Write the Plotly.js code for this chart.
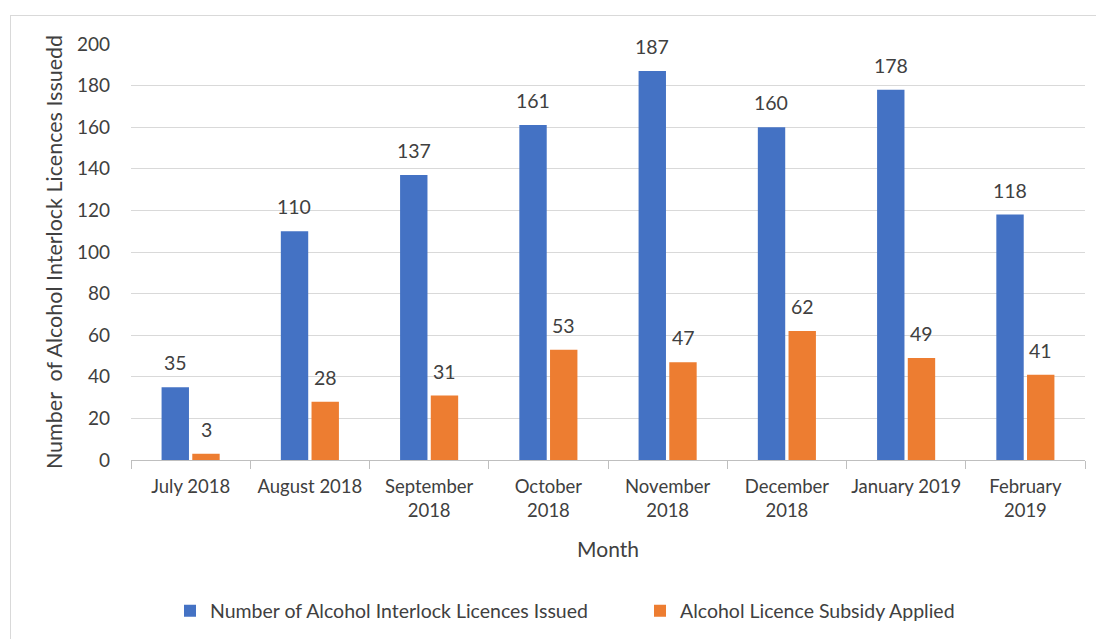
<!DOCTYPE html>
<html>
<head>
<meta charset="utf-8">
<script src="https://cdn.plot.ly/plotly-3.0.1.min.js"></script>
<style>
  body { margin: 0; background: #fff; }
  #plot { width: 1096px; height: 639px; }
  #frame { position: absolute; left: 10px; top: 15px; width: 1100px; height: 700px;
           border: 1px solid #d9d9d9; pointer-events: none; }
</style>
</head>
<body>
<div id="plot"></div>
<div id="frame"></div>
<script>
var months = ['July 2018', 'August 2018', 'September<br>2018', 'October<br>2018',
              'November<br>2018', 'December<br>2018', 'January 2019', 'February<br>2019'];
var licencesIssued = [35, 110, 137, 161, 187, 160, 178, 118];
var subsidyApplied = [3, 28, 31, 53, 47, 62, 49, 41];

var font = 'Lato, "Open Sans", sans-serif';
var textColor = '#404040';

var traceIssued = {
    x: months,
    y: licencesIssued,
    name: 'Number of Alcohol Interlock Licences Issued',
    type: 'bar',
    marker: { color: '#4472C4' },
    legend: 'legend',
    hoverinfo: 'y'
};
var traceSubsidy = {
    x: months,
    y: subsidyApplied,
    name: 'Alcohol Licence Subsidy Applied',
    type: 'bar',
    marker: { color: '#ED7D31' },
    legend: 'legend2',
    hoverinfo: 'y'
};

// value labels above each bar, shifted to its half of the group
var labels = [];
months.forEach(function (m, i) {
    labels.push({ x: m, y: licencesIssued[i], text: String(licencesIssued[i]),
                  xshift: -15.4, yshift: 11, yanchor: 'bottom', showarrow: false });
    labels.push({ x: m, y: subsidyApplied[i], text: String(subsidyApplied[i]),
                  xshift: 15.4, yshift: 11, yanchor: 'bottom', showarrow: false });
});

function legendAt(px) {
    return {
        orientation: 'h',
        xref: 'container', yref: 'container',
        x: px / 1096, xanchor: 'left',
        y: 1 - 611 / 639, yanchor: 'middle',
        itemwidth: 30,
        font: { family: font, size: 19.5, color: textColor }
    };
}

var layout = {
    width: 1096,
    height: 639,
    margin: { l: 131, r: 11, t: 44, b: 179, autoexpand: false },
    paper_bgcolor: '#fff',
    plot_bgcolor: '#fff',
    font: { family: font, size: 19, color: textColor },
    barmode: 'group',
    bargap: 0.485,
    bargroupgap: 0.108,
    showlegend: true,
    legend: legendAt(170),
    legend2: legendAt(640),
    xaxis: {
        type: 'category',
        showline: true,
        linecolor: '#bfbfbf',
        ticks: 'outside',
        tickson: 'boundaries',
        ticklen: 8,
        tickcolor: '#bfbfbf',
        tickangle: 0,
        ticklabelstandoff: 10,
        showgrid: false,
        tickfont: { family: font, size: 18.5, color: textColor },
        title: { text: 'Month', font: { family: font, size: 21, color: textColor }, standoff: 22 }
    },
    yaxis: {
        range: [0, 200],
        dtick: 20,
        showgrid: true,
        gridcolor: '#d9d9d9',
        zeroline: false,
        showline: false,
        ticks: '',
        ticklabelstandoff: 20,
        tickfont: { family: font, size: 19, color: textColor },
        title: { text: 'Number  of Alcohol Interlock Licences Issuedd',
                 font: { family: font, size: 21.5, color: textColor }, standoff: 8 }
    },
    annotations: labels.map(function (a) {
        a.font = { family: font, size: 19.5, color: textColor };
        return a;
    })
};

Plotly.newPlot('plot', [traceIssued, traceSubsidy], layout, { displayModeBar: false, staticPlot: true });
</script>
</body>
</html>
